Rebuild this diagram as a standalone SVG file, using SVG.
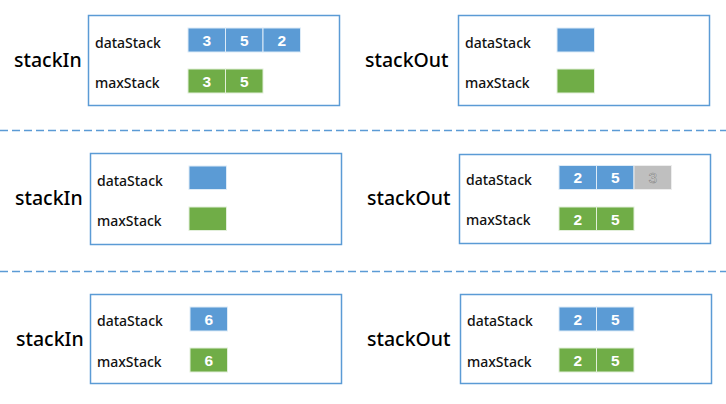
<svg xmlns="http://www.w3.org/2000/svg" width="726" height="404" viewBox="0 0 726 404">
<style>
.box{fill:#fff;stroke:#5B9BD5;stroke-width:1.5}
.lbl{font-family:"Noto Sans","Liberation Sans",sans-serif;font-size:14px;font-weight:500;fill:#111}
.big{font-family:"Noto Sans","Liberation Sans",sans-serif;font-size:19.5px;font-weight:500;fill:#000}
.b{fill:#5B9BD5;stroke:#DDEBF7;stroke-width:1}
.g{fill:#70AD47;stroke:#E2EFDA;stroke-width:1}
.x{fill:#BFBFBF;stroke:#EDEDED;stroke-width:1}
.n{font-family:"Liberation Sans",Arial,sans-serif;font-size:15.5px;font-weight:bold;fill:#fff;text-anchor:middle}
.nx{font-family:"Liberation Sans",Arial,sans-serif;font-size:15.5px;fill:#D9D9D9;stroke:#7F7F7F;stroke-width:0.5;text-anchor:middle}
.dash{stroke:#5B9BD5;stroke-width:1.3;stroke-dasharray:8 4;fill:none}
</style>
<g id="connectors">
<line class="dash" x1="0" y1="130.5" x2="726" y2="130.5"/>
<line class="dash" x1="0" y1="271.5" x2="726" y2="271.5"/>
</g>
<g id="p1-in">
<text class="big" x="14" y="67">stackIn</text>
<rect class="box" x="88.5" y="15.5" width="251" height="90"/>
<text class="lbl" x="95" y="48">dataStack</text>
<text class="lbl" x="95" y="88">maxStack</text>
<rect class="b" x="188" y="28" width="37.5" height="24"/><text class="n" x="206.7" y="45.5">3</text>
<rect class="b" x="225.5" y="28" width="37.5" height="24"/><text class="n" x="244.2" y="45.5">5</text>
<rect class="b" x="263" y="28" width="37.5" height="24"/><text class="n" x="281.7" y="45.5">2</text>
<rect class="g" x="188" y="69" width="37.5" height="24"/><text class="n" x="206.7" y="86.5">3</text>
<rect class="g" x="225.5" y="69" width="37.5" height="24"/><text class="n" x="244.2" y="86.5">5</text>
</g>
<g id="p1-out">
<text class="big" x="365" y="67">stackOut</text>
<rect class="box" x="458.5" y="15.5" width="251" height="90"/>
<text class="lbl" x="465" y="48">dataStack</text>
<text class="lbl" x="465" y="88">maxStack</text>
<rect class="b" x="557" y="28" width="37.5" height="24"/>
<rect class="g" x="557" y="69" width="37.5" height="24"/>
</g>
<g id="p2-in">
<text class="big" x="15" y="205">stackIn</text>
<rect class="box" x="90.5" y="153.5" width="251" height="91"/>
<text class="lbl" x="97" y="186">dataStack</text>
<text class="lbl" x="97" y="226">maxStack</text>
<rect class="b" x="189" y="166" width="37.5" height="23.5"/>
<rect class="g" x="189" y="207" width="37.5" height="23.5"/>
</g>
<g id="p2-out">
<text class="big" x="367" y="205">stackOut</text>
<rect class="box" x="459.5" y="154.5" width="251" height="89"/>
<text class="lbl" x="466" y="185">dataStack</text>
<text class="lbl" x="466" y="225">maxStack</text>
<rect class="b" x="559" y="165.5" width="37.5" height="24"/><text class="n" x="577.7" y="183">2</text>
<rect class="b" x="596.5" y="165.5" width="37.5" height="24"/><text class="n" x="615.2" y="183">5</text>
<rect class="x" x="634" y="165.5" width="37.5" height="24"/><text class="nx" x="652.7" y="183">3</text>
<rect class="g" x="559" y="207" width="37.5" height="23.5"/><text class="n" x="577.7" y="224.5">2</text>
<rect class="g" x="596.5" y="207" width="37.5" height="23.5"/><text class="n" x="615.2" y="224.5">5</text>
</g>
<g id="p3-in">
<text class="big" x="16" y="346">stackIn</text>
<rect class="box" x="90.5" y="294.5" width="251" height="89"/>
<text class="lbl" x="97" y="326">dataStack</text>
<text class="lbl" x="97" y="367">maxStack</text>
<rect class="b" x="190" y="307" width="37.5" height="24"/><text class="n" x="208.7" y="324.5">6</text>
<rect class="g" x="190" y="348" width="37.5" height="24"/><text class="n" x="208.7" y="365.5">6</text>
</g>
<g id="p3-out">
<text class="big" x="367" y="346">stackOut</text>
<rect class="box" x="460.5" y="294.5" width="251" height="89"/>
<text class="lbl" x="467" y="326">dataStack</text>
<text class="lbl" x="467" y="367">maxStack</text>
<rect class="b" x="559" y="307" width="37.5" height="24"/><text class="n" x="577.7" y="324.5">2</text>
<rect class="b" x="596.5" y="307" width="37.5" height="24"/><text class="n" x="615.2" y="324.5">5</text>
<rect class="g" x="559" y="348" width="37.5" height="24"/><text class="n" x="577.7" y="365.5">2</text>
<rect class="g" x="596.5" y="348" width="37.5" height="24"/><text class="n" x="615.2" y="365.5">5</text>
</g>
</svg>
